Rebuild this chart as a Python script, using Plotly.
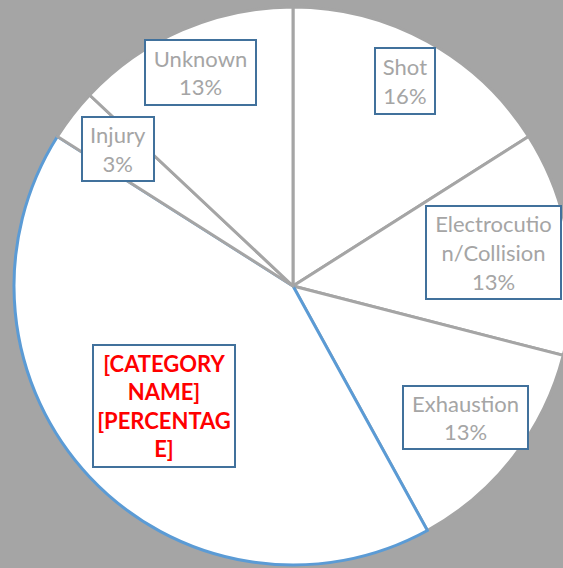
"""
Pie chart: causes (reference recreation)
"""

import plotly.graph_objects as go

# Data
categories = ['Shot', 'Electrocution/Collision', 'Exhaustion',
              '[CATEGORY NAME]', 'Injury', 'Unknown']
values = [16, 13, 13, 42, 3, 13]
label_text = ['Shot<br>16%', 'Electrocutio<br>n/Collision<br>13%', 'Exhaustion<br>13%',
              '[CATEGORY<br>NAME]<br>[PERCENTAG<br>E]', 'Injury<br>3%', 'Unknown<br>13%']

# Colores
COLORS = {
    'bg': '#A5A5A5',
    'edge': '#A5A5A5',
    'blue_edge': '#5B9BD5',
    'box': '#41719C',
    'text': '#A5A5A5',
    'red': '#FF0000',
}

# figure a bit wider than the window so the pie can spill past the right edge
W, H = 572, 568

# label boxes in pixels: (center x, center y, box width, box height)
BOXES = [
    (405, 81, 62, 68),
    (493, 252, 137, 95),
    (465, 417, 127, 65),
    (164, 406, 144, 124),
    (118, 149, 74, 66),
    (200, 72, 113, 67),
]

line_colors = [COLORS['blue_edge'] if c.startswith('[') else COLORS['edge'] for c in categories]

fig = go.Figure(go.Pie(
    labels=categories,
    values=values,
    sort=False,
    direction='clockwise',
    rotation=0,
    textinfo='none',
    hoverinfo='skip',
    showlegend=False,
    marker=dict(colors=['white'] * len(values),
                line=dict(color=line_colors, width=3)),
    domain=dict(x=[14 / W, 1], y=[1 - 565 / H, 1 - 7 / H]),
))

for cat, txt, (cx, cy, bw, bh) in zip(categories, label_text, BOXES):
    red = cat.startswith('[')
    fig.add_annotation(
        x=cx / W, y=1 - cy / H, xref='paper', yref='paper',
        xanchor='center', yanchor='middle',
        text=f'<b>{txt}</b>' if red else txt,
        showarrow=False,
        width=bw - 4, height=bh - 4,
        align='center', valign='middle',
        bgcolor='white', bordercolor=COLORS['box'], borderwidth=2, borderpad=0,
        font=dict(family='Lato', size=22, color=COLORS['red'] if red else COLORS['text']),
    )

fig.update_layout(
    width=W, height=H,
    margin=dict(t=0, b=0, l=0, r=0),
    paper_bgcolor=COLORS['bg'],
    plot_bgcolor=COLORS['bg'],
)

fig.write_html("out.html",
               config={'displayModeBar': False},
               post_script="document.body.style.margin='0';document.body.style.overflow='hidden';")
